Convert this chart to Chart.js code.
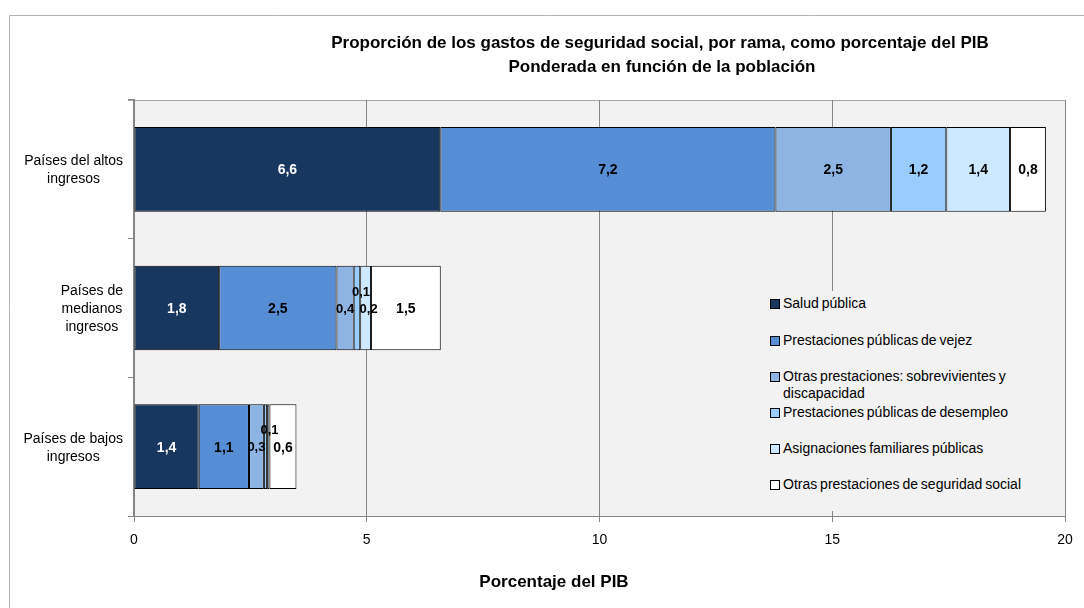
<!DOCTYPE html>
<html>
<head>
<meta charset="utf-8">
<script src="https://cdn.jsdelivr.net/npm/chart.js@4.4.0/dist/chart.umd.min.js"></script>
<style>
body { margin: 0; background: #fff; }
#wrap { position: relative; width: 1084px; height: 608px; }
#leyenda { position: absolute; left: 764px; top: 291px; width: 290px; height: 220px; background: #f2f2f2;
  font-family: "Liberation Sans", Arial, sans-serif; font-size: 14px; color: #000; word-spacing: -1px; }
.item { position: absolute; left: 6px; width: 270px; line-height: 17px; }
.cuadro { position: absolute; left: 0; top: 4px; width: 8px; height: 8px; border: 1px solid #000; }
.texto { margin-left: 13px; width: 250px; }
</style>
</head>
<body>
<div id="wrap">
  <canvas id="gastosChart" width="1084" height="608"></canvas>
  <div id="leyenda"></div>
</div>
<script>
// datos
var categorias = [['Países del altos', 'ingresos'], ['Países de', 'medianos', 'ingresos'], ['Países de bajos', 'ingresos']];
var series = ['Salud pública', 'Prestaciones públicas de vejez', 'Otras prestaciones: sobrevivientes y discapacidad',
  'Prestaciones públicas de desempleo', 'Asignaciones familiares públicas', 'Otras prestaciones de seguridad social'];
var saludPublica = [6.58, 1.83, 1.39];
var vejez = [7.2, 2.52, 1.08];
var sobrevivientes = [2.48, 0.37, 0.32];
var desempleo = [1.19, 0.14, 0.07];
var asignaciones = [1.37, 0.23, 0.05];
var otrasSeguridad = [0.77, 1.5, 0.58];
var xTicks = [0, 5, 10, 15, 20];
var titulo = ['Proporción de los gastos de seguridad social, por rama, como porcentaje del PIB', 'Ponderada en función de la población'];
var tituloX = 'Porcentaje del PIB';

var colores = ['#17375e', '#558ed5', '#8eb4e3', '#99ccff', '#cce9ff', '#ffffff'];
var coloresTexto = ['#ffffff', '#000000', '#000000', '#000000', '#000000', '#000000'];
var valores = [saludPublica, vejez, sobrevivientes, desempleo, asignaciones, otrasSeguridad];
var fuente = '"Liberation Sans", Arial, sans-serif';

var datasets = series.map(function (nombre, i) {
    return {
        label: nombre,
        data: valores[i],
        backgroundColor: colores[i],
        borderColor: '#000000',
        borderWidth: 1,
        borderSkipped: false,
        barPercentage: 0.61,
        categoryPercentage: 1
    };
});

// fondo, marco, titulos, etiquetas de categoria y de valores
var decoracion = {
    id: 'decoracion',
    beforeDraw: function (chart) {
        var ctx = chart.ctx, a = chart.chartArea;
        ctx.save();
        ctx.fillStyle = '#f2f2f2';
        ctx.fillRect(a.left, a.top, a.right - a.left, a.bottom - a.top);
        ctx.strokeStyle = '#b4b4b4';
        ctx.lineWidth = 1;
        ctx.beginPath();
        ctx.moveTo(9.5, 608); ctx.lineTo(9.5, 15.5); ctx.lineTo(1084, 15.5);
        ctx.stroke();
        ctx.strokeStyle = '#a6a6a6';
        ctx.beginPath();
        ctx.moveTo(a.left - 6, a.top + 0.5); ctx.lineTo(a.right, a.top + 0.5);
        ctx.stroke();
        ctx.restore();
    },
    afterDraw: function (chart) {
        var ctx = chart.ctx;
        var yScale = chart.scales.y;
        ctx.save();
        ctx.fillStyle = '#000';
        ctx.textAlign = 'center';
        ctx.textBaseline = 'middle';
        ctx.font = 'bold 17px ' + fuente;
        ctx.fillText(titulo[0], 660, 43);
        ctx.fillText(titulo[1], 662, 67);
        ctx.font = 'bold 17px ' + fuente;
        ctx.fillText(tituloX, 554, 582);

        ctx.font = '14px ' + fuente;
        categorias.forEach(function (lineas, i) {
            var y = yScale.getPixelForTick(i);
            var ancho = Math.max.apply(null, lineas.map(function (l) { return ctx.measureText(l).width; }));
            var cx = 123 - ancho / 2;
            var y0 = y + 1 - (lineas.length - 1) * 18 / 2;
            lineas.forEach(function (l, j) { ctx.fillText(l, cx, y0 + j * 18); });
        });

        chart.data.datasets.forEach(function (ds, i) {
            var meta = chart.getDatasetMeta(i);
            meta.data.forEach(function (bar, j) {
                var v = ds.data[j];
                if (v < 0.06) return;
                var x = (bar.x + bar.base) / 2, y = bar.y + 1;
                if (v < 0.18) { x += 4; y -= 17; }
                else if (v < 0.3) { x += 3; }
                ctx.font = 'bold ' + (v < 0.5 ? 13 : 14) + 'px ' + fuente;
                ctx.fillStyle = coloresTexto[i];
                ctx.fillText(v.toFixed(1).replace('.', ','), x, y);
            });
        });
        ctx.restore();
    }
};

var ctxGastos = document.getElementById('gastosChart').getContext('2d');
var gastosChart = new Chart(ctxGastos, {
    type: 'bar',
    data: {
        labels: categorias,
        datasets: datasets
    },
    options: {
        indexAxis: 'y',
        responsive: false,
        animation: false,
        devicePixelRatio: 1,
        layout: { padding: { left: 10, right: 19, top: 100, bottom: 0 } },
        plugins: {
            legend: { display: false },
            title: { display: false },
            tooltip: { enabled: false }
        },
        scales: {
            x: {
                stacked: true,
                min: 0,
                max: 20,
                afterBuildTicks: function (scale) {
                    scale.ticks = xTicks.map(function (v) { return { value: v }; });
                },
                afterFit: function (scale) { scale.height = 92; },
                ticks: {
                    color: '#000',
                    padding: 10,
                    font: { family: fuente, size: 14 },
                    callback: function (v) { return v; }
                },
                grid: { color: '#868686', lineWidth: 1, tickLength: 6 },
                border: { color: '#868686', width: 1 }
            },
            y: {
                stacked: true,
                offset: true,
                afterFit: function (scale) { scale.width = 124; },
                ticks: { display: false },
                grid: { offset: true, drawOnChartArea: false, tickLength: 6, color: '#868686' },
                border: { color: '#868686', width: 2 }
            }
        }
    },
    plugins: [decoracion]
});

// leyenda dentro del area del grafico
var topes = [3.5, 40.5, 76.5, 112.5, 148.5, 184.5];
var leyenda = document.getElementById('leyenda');
series.forEach(function (nombre, i) {
    var item = document.createElement('div');
    item.className = 'item';
    item.style.top = topes[i] + 'px';
    var cuadro = document.createElement('div');
    cuadro.className = 'cuadro';
    cuadro.style.background = colores[i];
    var texto = document.createElement('div');
    texto.className = 'texto';
    texto.textContent = nombre;
    item.appendChild(cuadro);
    item.appendChild(texto);
    leyenda.appendChild(item);
});
</script>
</body>
</html>
